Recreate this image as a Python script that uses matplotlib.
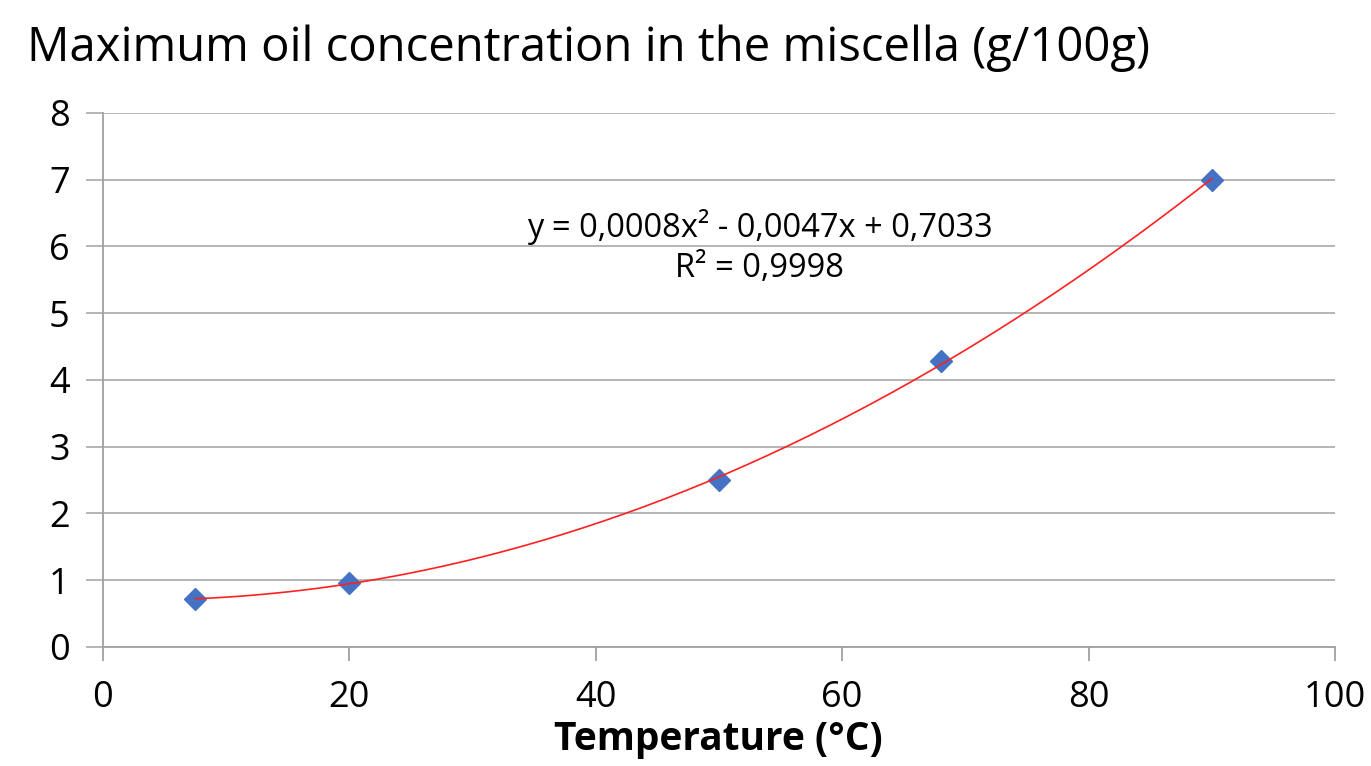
import matplotlib.pyplot as plt
import numpy as np

# data
temperature = [7.5, 20, 50, 68, 90]
oil_conc = [0.72, 0.96, 2.5, 4.28, 7.0]
x_ticks = [0, 20, 40, 60, 80, 100]
y_ticks = [0, 1, 2, 3, 4, 5, 6, 7, 8]
title = "Maximum oil concentration in the miscella (g/100g)"
x_label = "Temperature (°C)"
eq_text = "y = 0,0008x² - 0,0047x + 0,7033\nR² = 0,9998"

plt.rcParams["font.family"] = ["Open Sans", "DejaVu Sans"]

fig = plt.figure(figsize=(13.71, 7.66), dpi=100)
ax = fig.add_axes([0.0751, 0.1554, 0.8986, 0.6971])

# 2nd order polynomial trendline through the points
coef = np.polyfit(temperature, oil_conc, 2)
xs = np.linspace(min(temperature), max(temperature), 200)
ax.plot(xs, np.polyval(coef, xs), color="#ff2020", linewidth=1.2, zorder=4)
ax.plot(temperature, oil_conc, linestyle="none", marker="D", markersize=11,
        color="#4472c4", zorder=3)

ax.set_xlim(0, 100)
ax.set_ylim(0, 8)
ax.set_xticks(x_ticks)
ax.set_yticks(y_ticks)
ax.grid(axis="y", color="#b0b0b0", linewidth=1.3)
ax.set_axisbelow(True)
for side in ["top", "right"]:
    ax.spines[side].set_visible(False)
for side in ["left", "bottom"]:
    ax.spines[side].set_color("#a0a0a0")
    ax.spines[side].set_linewidth(1.3)
ax.tick_params(axis="y", length=12, width=1.3, color="#b0b0b0", labelsize=26, pad=12)
ax.tick_params(axis="x", length=10, width=1.3, color="#a0a0a0", labelsize=26, pad=14)

fig.text(0.524, 0.034, x_label, fontsize=28, fontweight="bold", ha="center", va="center")
ax.text(0.533, 0.749, eq_text, transform=ax.transAxes, ha="center", va="center",
        fontsize=23.5, linespacing=1.3)

fig.text(0.02, 0.937, title, fontsize=34, ha="left", va="center")

fig.savefig("out.png", dpi=100)
